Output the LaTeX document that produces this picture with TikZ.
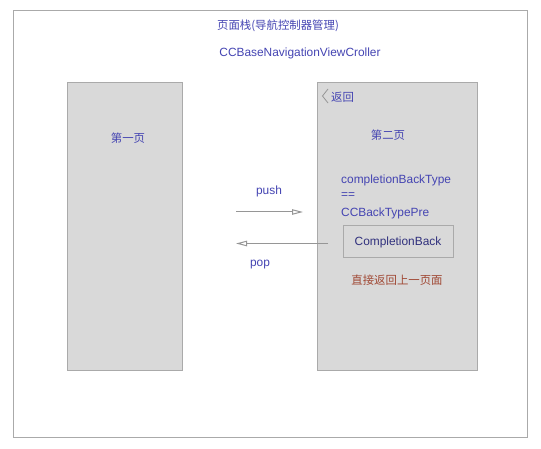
\documentclass[tikz,border=0pt]{standalone}
\usepackage{fontspec}
\setmainfont{Liberation Sans}
\newfontfamily\cjk{Noto Sans CJK SC}
\usetikzlibrary{arrows.meta}
\definecolor{txtblue}{RGB}{68,68,178}
\definecolor{txtred}{RGB}{160,72,52}
\definecolor{pagefill}{RGB}{217,217,217}
\definecolor{edge}{RGB}{170,170,170}
\definecolor{arrowgray}{RGB}{150,150,150}
\begin{document}
\begin{tikzpicture}[x=1pt,y=-1pt,
  lbl/.style={text=txtblue,font=\fontsize{11.9}{14}\selectfont,inner sep=0pt},
  cjklbl/.style={text=txtblue,font=\cjk\fontsize{11.4}{14}\selectfont,inner sep=0pt},
  page/.style={draw=edge,fill=pagefill,line width=1pt},
  flow/.style={draw=arrowgray,line width=1pt,-{Triangle[open,length=11pt,width=5.5pt]}}]
\useasboundingbox (0,0) rectangle (541,449);
\draw[edge,line width=1pt] (13.5,10.5) rectangle (527,437);
\node[cjklbl] (title) at (278,26) {页面栈(导航控制器管理)};
\node[lbl] (nav) at (300,53) {CCBaseNavigationViewCroller};
\node[page,minimum width=115pt,minimum height=287pt,inner sep=0pt] (p1) at (124.5,226.5) {};
\node[page,minimum width=160pt,minimum height=287pt,inner sep=0pt] (p2) at (397,226.5) {};
\node[cjklbl] (first) at (128,138) {第一页};
\draw[arrowgray,line width=0.8pt] (328,89) -- (322.5,96) -- (328,103);
\node[cjklbl,anchor=west] (back) at (331,97) {返回};
\node[cjklbl] (second) at (388,135) {第二页};
\node[lbl,anchor=west] (ct1) at (341,180) {completionBackType};
\node[lbl,anchor=west] (ct2) at (341,196) {==};
\node[lbl,anchor=west] (ct3) at (341,213) {CCBackTypePre};
\node[draw=edge,fill=pagefill,line width=1pt,minimum width=110pt,minimum height=32pt,inner sep=0pt,
  text=txtblue!70!black,font=\fontsize{11.9}{14}\selectfont] (cb) at (398,242) {CompletionBack};
\node[text=txtred,font=\cjk\fontsize{11.4}{14}\selectfont,inner sep=0pt] (direct) at (397,280) {直接返回上一页面};
\coordinate (pushs) at (236,212);
\coordinate (pushe) at (303,212);
\coordinate (pops) at (328,243.5);
\coordinate (pope) at (236,243.5);
\draw[flow] (pushs) -- (pushe);
\draw[flow] (pops) -- (pope);
\node[lbl] (push) at (269,191) {push};
\node[lbl] (pop) at (260,265) {pop};
\end{tikzpicture}
\end{document}
